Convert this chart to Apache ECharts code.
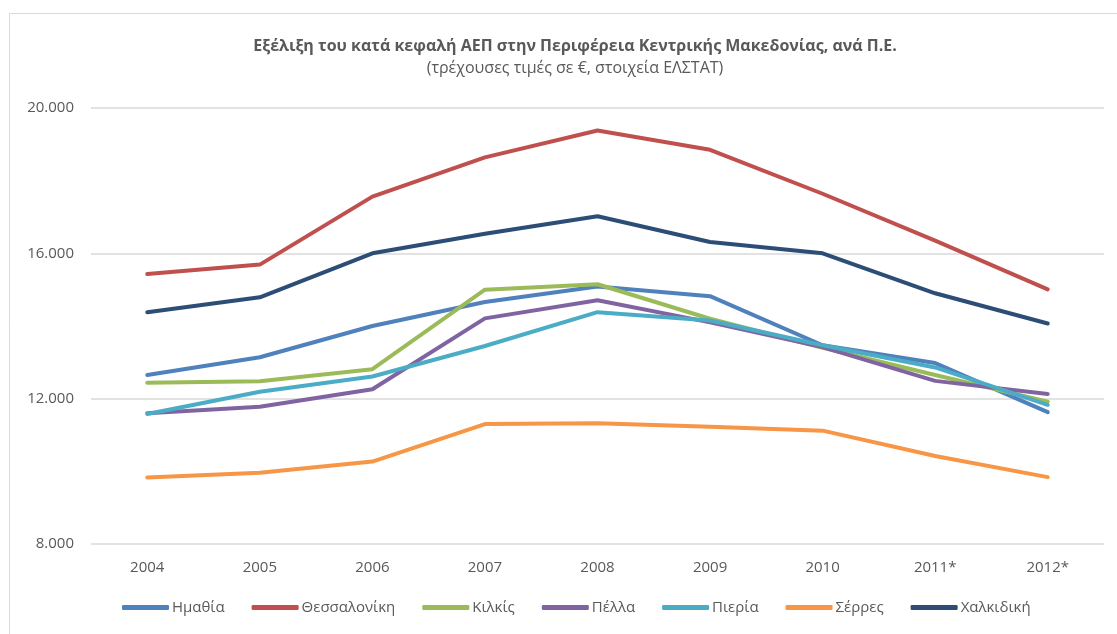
<!DOCTYPE html>
<html>
<head>
<meta charset="utf-8">
<script src="https://cdn.jsdelivr.net/npm/echarts@6/dist/echarts.min.js"></script>
<style>
  html, body { margin: 0; padding: 0; background: #fff; }
  #chart { width: 1117px; height: 634px; }
</style>
</head>
<body>
<div id="chart"></div>
<script>
// κατηγορίες (έτη)
const years = ['2004', '2005', '2006', '2007', '2008', '2009', '2010', '2011*', '2012*']

// κατά κεφαλή ΑΕΠ ανά Π.Ε. (εκτίμηση από την εικόνα)
const imathia = [12650, 13140, 14000, 14660, 15090, 14820, 13470, 12980, 11630]
const thessaloniki = [15430, 15690, 17560, 18640, 19380, 18850, 17640, 16350, 15010]
const kilkis = [12440, 12480, 12810, 15000, 15150, 14200, 13400, 12650, 11920]
const pella = [11600, 11780, 12260, 14210, 14710, 14100, 13420, 12490, 12130]
const pieria = [11580, 12190, 12610, 13450, 14380, 14150, 13470, 12860, 11830]
const serres = [9830, 9960, 10270, 11300, 11320, 11230, 11120, 10420, 9840]
const chalkidiki = [14380, 14790, 16000, 16540, 17020, 16310, 16000, 14900, 14070]

const seriesNames = ['Ημαθία', 'Θεσσαλονίκη', 'Κιλκίς', 'Πέλλα', 'Πιερία', 'Σέρρες', 'Χαλκιδική']
const seriesData = [imathia, thessaloniki, kilkis, pella, pieria, serres, chalkidiki]
const colors = ['#4F81BD', '#C0504D', '#9BBB59', '#8064A2', '#4BACC6', '#F79646', '#2C4D75']

const font = '"Open Sans", "Noto Sans", sans-serif'

const myChart = echarts.init(document.getElementById('chart'))
myChart.setOption({
  color: colors,
  animation: false,
  textStyle: { fontFamily: font },
  graphic: [
    {
      type: 'rect',
      shape: { x: 9.5, y: 13.5, width: 1200, height: 700 },
      style: { fill: 'none', stroke: '#d9d9d9', lineWidth: 1 },
      silent: true
    }
  ],
  title: {
    text: 'Εξέλιξη του κατά κεφαλή ΑΕΠ στην Περιφέρεια Κεντρικής Μακεδονίας, ανά Π.Ε.',
    subtext: '(τρέχουσες τιμές σε €, στοιχεία ΕΛΣΤΑΤ)',
    left: 570,
    textAlign: 'center',
    top: 33,
    itemGap: 6,
    textStyle: { fontSize: 16, fontWeight: 'bold', color: '#595959', fontFamily: font },
    subtextStyle: { fontSize: 16, color: '#595959', fontFamily: font }
  },
  legend: {
    bottom: 14,
    left: 117,
    itemWidth: 47,
    itemHeight: 5,
    itemGap: 27,
    icon: 'roundRect',
    textStyle: { fontSize: 15, color: '#595959', padding: [0, 0, 0, -2] },
    data: seriesNames
  },
  grid: {
    left: 91,
    right: 13,
    top: 108,
    bottom: 90
  },
  xAxis: {
    type: 'category',
    data: years,
    boundaryGap: true,
    axisLine: { show: false },
    axisTick: { show: false },
    axisLabel: { color: '#595959', fontSize: 15, margin: 16 }
  },
  yAxis: {
    type: 'value',
    min: 8000,
    max: 20000,
    interval: 4000,
    axisLine: { show: false },
    axisTick: { show: false },
    splitLine: { lineStyle: { color: '#d9d9d9', width: 1.5 } },
    axisLabel: {
      color: '#595959',
      fontSize: 15,
      margin: 17,
      formatter: (v) => v.toLocaleString('de-DE') + ''
    }
  },
  series: seriesNames.map((name, i) => ({
    name: name,
    type: 'line',
    data: seriesData[i],
    showSymbol: false,
    symbol: 'none',
    lineStyle: { width: 4, cap: 'round', join: 'round' }
  }))
})
</script>
</body>
</html>
